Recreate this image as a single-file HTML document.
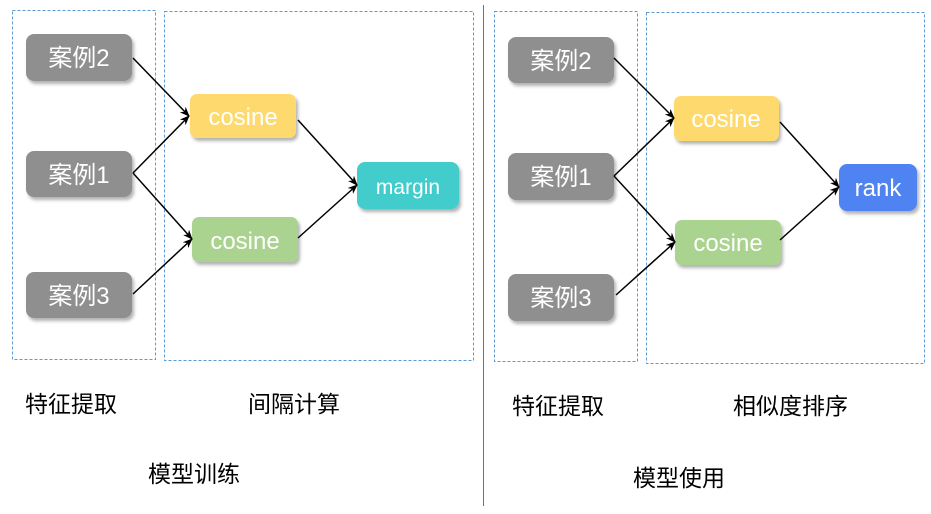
<!DOCTYPE html>
<html><head><meta charset="utf-8"><style>
html,body{margin:0;padding:0;background:#fff;}
body{width:931px;height:509px;overflow:hidden;}
text{font-family:"Liberation Sans","Noto Sans CJK SC",sans-serif;}
</style></head><body>
<svg width="931" height="509" viewBox="0 0 931 509" xmlns="http://www.w3.org/2000/svg">
<defs>
<marker id="a" markerWidth="10" markerHeight="8" refX="9" refY="4" orient="auto" markerUnits="userSpaceOnUse">
<path d="M0,0 L10,4 L0,8 L3,4 z" fill="#000"/></marker>
<filter id="s" x="-10%" y="-10%" width="130%" height="140%"><feDropShadow dx="2" dy="3" stdDeviation="1.5" flood-color="#000" flood-opacity="0.3"/></filter>
</defs>
<g fill="none" stroke="#5b9bd5" stroke-width="1" stroke-dasharray="3,2">
<rect x="12.5" y="10.5" width="143" height="349"/>
<rect x="164.5" y="11.5" width="309" height="349"/>
<rect x="494.5" y="11.5" width="143" height="350"/>
<rect x="646.5" y="12.5" width="278" height="351"/>
</g>
<line x1="483.5" y1="5" x2="483.5" y2="506" stroke="#4a7ab8" stroke-width="1"/>
<g filter="url(#s)">
<rect x="26" y="34" width="106" height="47" rx="8" fill="#8f8f8f"/>
<rect x="26" y="151" width="106" height="46" rx="8" fill="#8f8f8f"/>
<rect x="26" y="272" width="106" height="46" rx="8" fill="#8f8f8f"/>
<rect x="190" y="94" width="106" height="44" rx="7" fill="#fed96d"/>
<rect x="192" y="217" width="106" height="45" rx="7" fill="#a9d38f"/>
<rect x="357" y="162" width="102" height="47" rx="8" fill="#42cccb"/>
<rect x="508" y="37" width="106" height="46" rx="8" fill="#8f8f8f"/>
<rect x="508" y="153" width="106" height="47" rx="8" fill="#8f8f8f"/>
<rect x="508" y="274" width="106" height="47" rx="8" fill="#8f8f8f"/>
<rect x="674" y="96" width="105" height="45" rx="7" fill="#fed96d"/>
<rect x="675" y="220" width="106" height="45" rx="7" fill="#a9d38f"/>
<rect x="839" y="164" width="78" height="47" rx="8" fill="#4f83f2"/>
</g>
<g fill="#fff" font-size="24" text-anchor="middle">
<text x="79" y="66">案例2</text>
<text x="79" y="183">案例1</text>
<text x="79" y="304">案例3</text>
<text x="243" y="125">cosine</text>
<text x="245" y="249">cosine</text>
<text x="408" y="194" font-size="21">margin</text>
<text x="561" y="69">案例2</text>
<text x="561" y="185">案例1</text>
<text x="561" y="306">案例3</text>
<text x="726" y="127">cosine</text>
<text x="728" y="251">cosine</text>
<text x="878" y="196">rank</text>
</g>
<g stroke="#000" stroke-width="1.5" marker-end="url(#a)">
<line x1="133" y1="58" x2="189" y2="116"/>
<line x1="133" y1="173" x2="189" y2="116"/>
<line x1="133" y1="173" x2="192" y2="239"/>
<line x1="133" y1="294" x2="192" y2="239"/>
<line x1="298" y1="120" x2="357" y2="185"/>
<line x1="298" y1="238" x2="357" y2="185"/>
<line x1="614" y1="58" x2="674" y2="118"/>
<line x1="614" y1="176" x2="674" y2="118"/>
<line x1="614" y1="176" x2="675" y2="242"/>
<line x1="616" y1="295" x2="675" y2="242"/>
<line x1="780" y1="122" x2="839" y2="187"/>
<line x1="780" y1="240" x2="839" y2="187"/>
</g>
<g fill="#000" font-size="23">
<text x="25" y="412">特征提取</text>
<text x="248" y="412">间隔计算</text>
<text x="148" y="482">模型训练</text>
<text x="512" y="414">特征提取</text>
<text x="733" y="414">相似度排序</text>
<text x="633" y="486">模型使用</text>
</g>
</svg>
</body></html>
